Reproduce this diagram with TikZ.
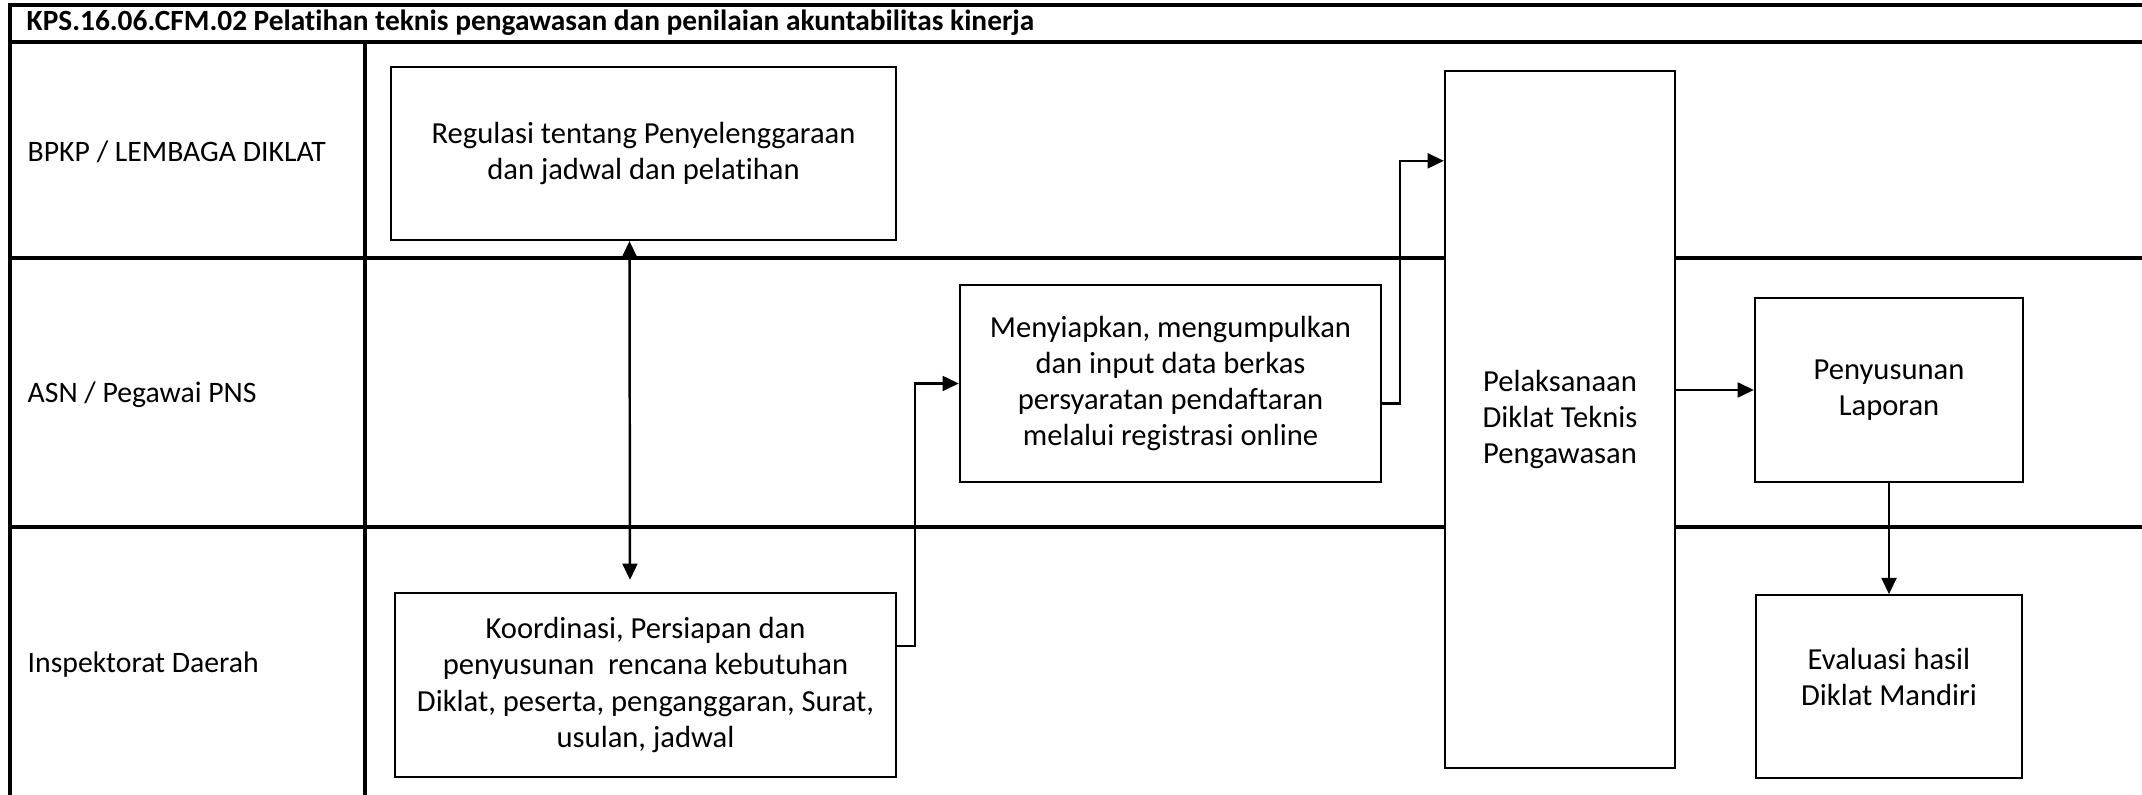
\documentclass[tikz,border=0pt]{standalone}
\usepackage{fontspec}
\setmainfont{Carlito}[Ligatures=NoCommon]
\usepackage{tikz}
\usetikzlibrary{positioning, arrows.meta}

\begin{document}
\begin{tikzpicture}[x=0.01cm, y=-0.01cm,
      font=\fontsize{8.7}{10.3}\selectfont,
      frame/.style={line width=0.9pt},
      box/.style={draw, fill=white, line width=0.6pt, align=center,
        inner sep=0pt},
      lane/.style={anchor=west, inner sep=0pt, font=\fontsize{8.45}{10}\selectfont},
      arr/.style={-{Triangle[length=4.6pt, width=4.2pt]}, line width=0.7pt},
      dbl/.style={{Triangle[length=4.6pt, width=4.2pt]}-{Triangle[length=4.6pt,
        width=4.2pt]}, line width=0.7pt}
    ]
    \useasboundingbox (0,0) rectangle (2142,795);

    \draw[frame] (2142,5) -- (10,5) -- (10,795);
    \draw[frame] (10,42) -- (2142,42);
    \draw[frame] (365,42) -- (365,795);
    \draw[frame] (10,258) -- (2142,258);
    \draw[frame] (10,527) -- (2142,527);

    \node[lane, font=\fontsize{8.35}{10}\selectfont\bfseries] (title) at (26,23)
      {KPS.16.06.CFM.02 Pelatihan teknis pengawasan dan penilaian akuntabilitas kinerja};
    \node[lane] (bpkp) at (27,152) {BPKP / LEMBAGA DIKLAT};
    \node[lane] (asn) at (27,395) {ASN / Pegawai PNS};
    \node[lane] (insp) at (27,665) {Inspektorat Daerah};

    \node[box, minimum width=5.05cm, minimum height=1.73cm] (reg) at (643.5,153.5)
      {Regulasi tentang Penyelenggaraan \\ dan jadwal dan pelatihan};
    \node[box, minimum width=5.01cm, minimum height=1.84cm] (koor) at (645.5,685)
      {Koordinasi, Persiapan dan \\ penyusunan\ \ rencana kebutuhan \\
       Diklat, peserta, penganggaran, Surat, \\ usulan, jadwal};
    \node[box, minimum width=4.21cm, minimum height=1.97cm] (siap) at (1170.5,383.5)
      {Menyiapkan, mengumpulkan \\ dan input data berkas \\
       persyaratan pendaftaran \\ melalui registrasi online};
    \node[box, minimum width=2.30cm, minimum height=6.97cm] (laks) at (1560,419.5)
      {Pelaksanaan \\ Diklat Teknis \\ Pengawasan};
    \node[box, minimum width=2.68cm, minimum height=1.84cm] (lap) at (1889,390)
      {Penyusunan \\ Laporan};
    \node[box, minimum width=2.66cm, minimum height=1.83cm, text depth=0.2cm,
      below=1.11cm of lap] (eval) {Evaluasi hasil \\ Diklat Mandiri};

    \draw[dbl] ([xshift=-0.14cm]reg.south) -- ([xshift=-0.155cm, yshift=0.12cm]koor.north);
    \draw[arr] ([yshift=0.39cm]koor.east) -- ++(18,0) |- (siap.west);
    \draw[arr] ([yshift=-0.2cm]siap.east) -- ++(18,0) |- ([yshift=2.585cm]laks.west);
    \draw[arr] (laks.east |- lap.west) -- (lap.west);
    \draw[arr] (lap) -- (eval);
  \end{tikzpicture}
\end{document}
